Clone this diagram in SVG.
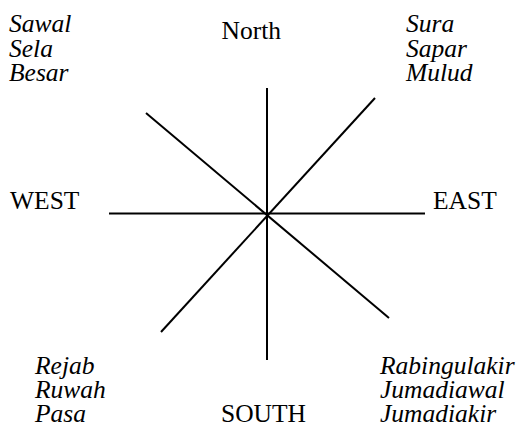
<svg xmlns="http://www.w3.org/2000/svg" width="522" height="425" viewBox="0 0 522 425">
<style>
.l{stroke:#000;stroke-width:2;fill:none}
.d{font-family:"Liberation Serif","Times New Roman",serif;font-size:25.5px;fill:#000}
.m{font-family:"Liberation Serif","Times New Roman",serif;font-size:25.5px;font-style:italic;fill:#000}
</style>
<rect width="522" height="425" fill="#fff"/>
<g id="connectors">
<line class="l" x1="267" y1="88" x2="267" y2="360"/>
<line class="l" x1="109" y1="213.5" x2="425" y2="213.5"/>
<line class="l" x1="146" y1="113" x2="389" y2="318"/>
<line class="l" x1="375" y1="98" x2="161" y2="332"/>
</g>
<g id="north"><text class="d" x="221.5" y="39">North</text></g>
<g id="south"><text class="d" x="221" y="422">SOUTH</text></g>
<g id="west"><text class="d" x="10" y="209">WEST</text></g>
<g id="east"><text class="d" x="433" y="209">EAST</text></g>
<g id="nw"><text class="m" x="9" y="32">Sawal</text><text class="m" x="9" y="56.5">Sela</text><text class="m" x="9" y="81">Besar</text></g>
<g id="ne"><text class="m" x="406" y="32">Sura</text><text class="m" x="406" y="56.5">Sapar</text><text class="m" x="406" y="81">Mulud</text></g>
<g id="sw"><text class="m" x="35" y="374">Rejab</text><text class="m" x="35" y="398">Ruwah</text><text class="m" x="35" y="422">Pasa</text></g>
<g id="se"><text class="m" x="380" y="374">Rabingulakir</text><text class="m" x="380" y="398">Jumadiawal</text><text class="m" x="380" y="422">Jumadiakir</text></g>
</svg>
